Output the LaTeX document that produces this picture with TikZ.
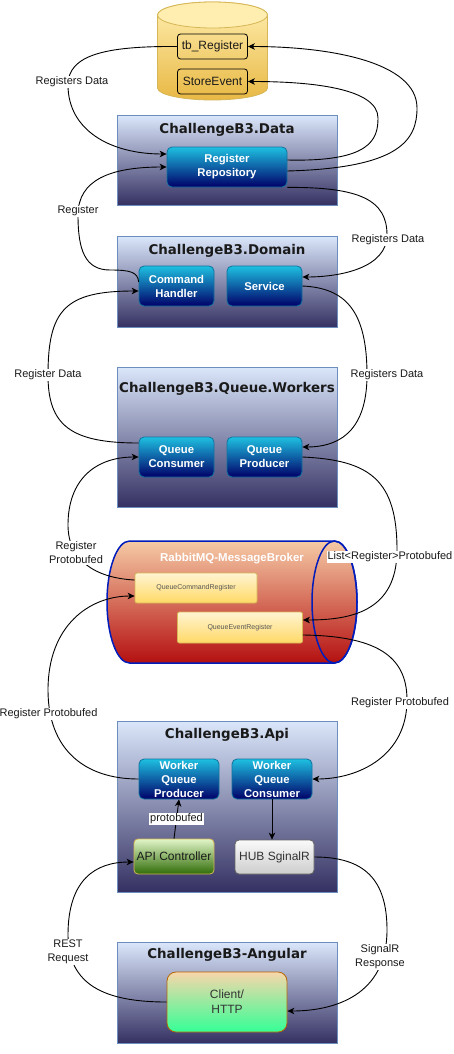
\documentclass[tikz,border=0pt]{standalone}
\usepackage{fontspec}
\setmainfont{Liberation Sans}
\newfontfamily\titlefont{DejaVu Sans}
\usetikzlibrary{arrows.meta,calc}
\definecolor{conttop}{RGB}{218,230,250}
\definecolor{contbot}{RGB}{52,48,98}
\definecolor{contborder}{RGB}{108,142,191}
\definecolor{bluetop}{RGB}{30,192,225}
\definecolor{bluebot}{RGB}{0,0,105}
\definecolor{blueborder}{RGB}{16,115,158}
\definecolor{dbtop}{RGB}{255,238,175}
\definecolor{dbbot}{RGB}{232,184,68}
\definecolor{dbborder}{RGB}{214,182,86}
\definecolor{qtop}{RGB}{255,244,210}
\definecolor{qbot}{RGB}{255,217,102}
\definecolor{qtext}{RGB}{85,85,85}
\definecolor{rabtop}{RGB}{246,202,165}
\definecolor{rabbot}{RGB}{180,16,16}
\definecolor{rabborder}{RGB}{0,29,188}
\definecolor{apitop}{RGB}{226,246,200}
\definecolor{apibot}{RGB}{48,108,8}
\definecolor{hubtop}{RGB}{250,250,250}
\definecolor{hubbot}{RGB}{205,205,205}
\definecolor{hubborder}{RGB}{102,102,102}
\definecolor{darktext}{RGB}{51,51,51}
\definecolor{clitop}{RGB}{248,214,170}
\definecolor{clibot}{RGB}{52,255,150}
\definecolor{cliborder}{RGB}{180,101,4}
\definecolor{ink}{RGB}{26,26,26}
\begin{document}
\begin{tikzpicture}[x=1pt,y=-1pt,
  cont/.style={draw=contborder, top color=conttop, bottom color=contbot, line width=0.8pt, inner sep=0pt, anchor=north west},
  ttl/.style={font=\titlefont\bfseries\fontsize{13.4}{16}\selectfont, text=ink},
  bluebox/.style={draw=blueborder, top color=bluetop, bottom color=bluebot, rounded corners=5pt, text=white, font=\bfseries\fontsize{11.3}{14}\selectfont, align=center, inner sep=0pt, minimum width=75pt, minimum height=40pt, line width=0.8pt},
  dbbox/.style={draw=black, rounded corners=3pt, font=\fontsize{12}{14}\selectfont, text=ink, inner sep=0pt, minimum width=70pt, minimum height=25pt, line width=0.8pt},
  qbox/.style={draw=dbborder, top color=qtop, bottom color=qbot, rounded corners=2pt, font=\fontsize{7}{8}\selectfont, text=qtext, inner sep=0pt, line width=0.8pt},
  lbl/.style={fill=white, inner sep=1pt, font=\fontsize{11}{13}\selectfont, text=ink, align=center},
  conn/.style={line width=0.9pt, draw=black, -{Stealth[length=7pt,width=6.5pt,inset=2pt]}}]
\useasboundingbox (0,0) rectangle (454,1054);
\fill[white] (0,0) rectangle (454,1054);

% ---------- database cylinder ----------
\path[draw=dbborder, top color=dbtop, bottom color=dbbot, line width=0.8pt]
  (157.5,15) -- (157.5,88) arc (180:360:55pt and 12pt) -- (267.5,15) arc (0:180:55pt and 13pt) -- cycle;
\draw[dbborder, fill=dbtop, line width=0.8pt] (212.5,15) ellipse [x radius=55pt, y radius=13pt];
\node[dbbox] (tbreg) at (212.5,46.5) {tb\_Register};
\node[dbbox] (store) at (212.5,81.5) {StoreEvent};

% ---------- containers ----------
\node[cont, minimum width=220pt, minimum height=90pt] (cdata) at (117,115) {};
\node[ttl] (tdata) at (227,130) {ChallengeB3.Data};
\node[cont, minimum width=220pt, minimum height=91pt] (cdom) at (117,236) {};
\node[ttl] (tdom) at (227,251) {ChallengeB3.Domain};
\node[cont, minimum width=220pt, minimum height=140pt] (cwrk) at (117,367) {};
\node[ttl] (twrk) at (227,389) {ChallengeB3.Queue.Workers};
\node[cont, minimum width=220pt, minimum height=171pt] (capi) at (117,721) {};
\node[ttl] (tapi) at (227,735) {ChallengeB3.Api};
\node[cont, minimum width=220pt, minimum height=101pt] (cang) at (117,942) {};
\node[ttl] (tang) at (227,955) {ChallengeB3-Angular};

% ---------- inner nodes ----------
\node[bluebox, minimum width=120pt] (repo) at (227,167) {Register\\Repository};
\node[bluebox] (cmd) at (176.5,286) {Command\\Handler};
\node[bluebox] (svc) at (264.5,286) {Service};
\node[bluebox] (qcons) at (176.5,457) {Queue\\Consumer};
\node[bluebox] (qprod) at (264.5,457) {Queue\\Producer};

% ---------- RabbitMQ cylinder ----------
\path[draw=rabborder, top color=rabtop, bottom color=rabbot, line width=1.5pt]
  (129.5,541) -- (334.5,541) arc (90:-90:22.5pt and 61pt) -- (129.5,663) arc (270:90:22.5pt and 61pt) -- cycle;
\draw[rabborder, line width=1.5pt] (334.5,602) ellipse [x radius=22.5pt, y radius=61pt];
\node[font=\bfseries\fontsize{11.5}{13}\selectfont, text=white] (rabt) at (232,559) {RabbitMQ-MessageBroker};
\node[qbox, minimum width=122pt, minimum height=30pt] (qcmd) at (196,588) {QueueCommandRegister};
\node[qbox, minimum width=125pt, minimum height=31pt] (qevt) at (240,627.5) {QueueEventRegister};

% ---------- API ----------
\node[bluebox, minimum width=80pt] (wqp) at (179,779) {Worker\\Queue\\Producer};
\node[bluebox, minimum width=80pt] (wqc) at (272,779) {Worker\\Queue\\Consumer};
\node[draw=dbborder, top color=apitop, bottom color=apibot, rounded corners=4pt, minimum width=80pt, minimum height=35pt, inner sep=0pt, font=\fontsize{12}{14}\selectfont, text=ink, line width=0.8pt] (apic) at (174,856.5) {API Controller};
\node[draw=hubborder, top color=hubtop, bottom color=hubbot, rounded corners=4pt, minimum width=79pt, minimum height=34pt, inner sep=0pt, font=\fontsize{12}{14}\selectfont, text=darktext, line width=0.8pt] (hub) at (274.5,857) {HUB SginalR};

% ---------- Angular ----------
\node[draw=cliborder, top color=clitop, bottom color=clibot, rounded corners=9pt, minimum width=120pt, minimum height=60pt, inner sep=0pt, align=center, font=\fontsize{12}{15}\selectfont, text=darktext, line width=0.8pt] (client) at (227,1002) {Client/\\HTTP};

% ---------- label anchor coordinates ----------
\coordinate (p1) at (68,85);
\coordinate (p2) at (378,118);
\coordinate (p3) at (417,108);
\coordinate (p4) at (387,235);
\coordinate (p5) at (367,375);
\coordinate (p6) at (78,215);
\coordinate (p7) at (48,375);
\coordinate (p8) at (68,525);
\coordinate (p9) at (397,550);
\coordinate (p10) at (407,700);
\coordinate (p11) at (48,690);
\coordinate (p12) at (68,935);
\coordinate (p13) at (387,930);

% ---------- connectors ----------
\draw[conn] (tbreg.west) .. controls (105,46) and (68,55) .. (p1)
   .. controls (68,130) and (110,154) .. ([yshift=13pt]repo.west);
\draw[conn] ([yshift=7pt]repo.east) .. controls (370,162) and (378,140) .. (p2)
   .. controls (378,88) and (310,81.5) .. (store.east);
\draw[conn] ([yshift=-4pt]repo.east) .. controls (400,168) and (417,140) .. (p3)
   .. controls (417,62) and (330,46.5) .. (tbreg.east);
\draw[conn] (repo.south east) .. controls (360,187) and (387,200) .. (p4)
   .. controls (387,268) and (340,277) .. ([yshift=9pt]svc.east);
\draw[conn] (svc.east) .. controls (345,288) and (367,310) .. (p5)
   .. controls (367,435) and (335,447) .. ([yshift=10pt]qprod.east);
\draw[conn] ([yshift=4pt]cmd.west) .. controls (138,272) and (130,270) .. (110,270)
   .. controls (85,270) and (78,250) .. (p6)
   .. controls (78,180) and (110,167) .. (repo.west);
\draw[conn] ([yshift=14pt]qcons.west) .. controls (70,443) and (48,425) .. (p7)
   .. controls (48,310) and (65,291) .. ([yshift=-5pt]cmd.west);
\draw[conn] ([yshift=8pt]qcmd.west) .. controls (95,578) and (68,560) .. (p8)
   .. controls (68,480) and (95,457) .. (qcons.west);
\draw[conn] (qprod.east) .. controls (370,460) and (397,480) .. (p9)
   .. controls (397,612) and (350,620) .. ([yshift=7.5pt]qevt.east);
\draw[conn] ([yshift=-7.5pt]qevt.east) .. controls (375,636) and (407,655) .. (p10)
   .. controls (407,755) and (360,779) .. (wqc.east);
\draw[conn] (wqp.west) .. controls (85,779) and (48,750) .. (p11)
   .. controls (48,625) and (90,596) .. ([yshift=-8pt]qcmd.west);
\draw[conn] (apic.north) -- (wqp.south);
\draw[conn] (wqc.south) -- (wqc.south |- hub.north);
\draw[conn] (client.west) .. controls (105,1002) and (68,985) .. (p12)
   .. controls (68,880) and (95,862) .. ([yshift=-5.5pt]apic.west);
\draw[conn] (hub.east) .. controls (365,857) and (387,880) .. (p13)
   .. controls (387,995) and (335,1011) .. ([yshift=-9pt]client.east);

% ---------- labels ----------
\node[lbl] (l1) at (72,82) {Registers Data};
\node[lbl] (l6) at (78,211) {Register};
\node[lbl] (l4) at (388,240) {Registers Data};
\node[lbl] (l7) at (48,375) {Register Data};
\node[lbl] (l5) at (387,375) {Registers Data};
\node[lbl, font=\fontsize{11}{14}\selectfont] (l8) at (76,553) {Register\\Protobufed};
\node[lbl] (l9) at (390,557) {List<Register>Protobufed};
\node[lbl] (l11) at (48.5,714) {Register Protobufed};
\node[lbl] (l10) at (400,703) {Register Protobufed};
\node[lbl] (l12) at ($(apic.north)!0.5!(wqp.south)$) {protobufed};
\node[lbl, font=\fontsize{11}{14}\selectfont] (l14) at (68,952) {REST\\Request};
\node[lbl, font=\fontsize{11}{14}\selectfont] (l15) at (380,957) {SignalR\\Response};
\end{tikzpicture}
\end{document}
